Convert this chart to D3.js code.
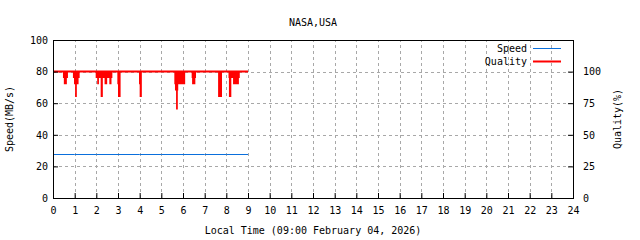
<!DOCTYPE html>
<html>
<head>
<meta charset="utf-8">
<script src="https://cdn.jsdelivr.net/npm/d3@7"></script>
<style>
  body { margin: 0; background: #fff; }
  text { font-family: "DejaVu Sans Mono", monospace; font-size: 10px; fill: #000; }
</style>
</head>
<body>
<div id="chart"></div>
<script>
// chart size and plot box
const width = 640;
const height = 240;
const margin = {left: 53, right: 67, top: 40, bottom: 42};

// axis ticks
const hourTicks = [0,1,2,3,4,5,6,7,8,9,10,11,12,13,14,15,16,17,18,19,20,21,22,23,24];
const speedTicks = [0,20,40,60,80,100];
const qualityTicks = [0,25,50,75,100];

// speed series (hours, MB/s)
const speedTime  = [0, 1, 2, 3, 4, 5, 6, 7, 8, 9];
const speedValue = [28, 28, 28, 28, 28, 28, 28, 28, 28, 28];

// quality series (hours, %) - value holds until the next time
const qualityTime  = [0, 0.46, 0.50, 0.64, 0.69, 0.92, 0.97, 1.02, 1.10, 1.18, 1.23,
                      1.97, 2.04, 2.12, 2.20, 2.30, 2.38, 2.50, 2.60, 2.70, 2.74,
                      2.97, 3.00, 3.12, 3.97, 4.00, 4.10,
                      5.60, 5.63, 5.68, 5.76, 5.78, 6.10, 6.40, 6.42, 6.57, 6.60,
                      7.62, 7.80, 8.10, 8.12, 8.23, 8.31, 8.58, 8.62, 9.00];
const qualityValue = [100, 95, 90, 95, 100, 95, 90, 80, 90, 95, 100,
                      95, 90, 95, 80, 95, 90, 95, 90, 95, 100,
                      90, 80, 100, 90, 80, 100,
                      90, 85, 70, 85, 90, 100, 95, 90, 95, 100,
                      80, 100, 95, 80, 95, 90, 95, 100, 100];

const speedColor = "#0a6fdc";
const qualityColor = "#ff0000";

const svg = d3.select("#chart")
  .append("svg")
  .attr("width", width)
  .attr("height", height);

svg.append("rect")
  .attr("width", width)
  .attr("height", height)
  .attr("fill", "#fff");

// scales
const x = d3.scaleLinear()
  .domain([0, 24])
  .range([margin.left, width - margin.right]);

const yL = d3.scaleLinear()
  .domain([0, 100])
  .range([height - margin.bottom, margin.top]);

const yR = d3.scaleLinear()
  .domain([0, 125])
  .range([height - margin.bottom, margin.top]);

// grid lines
const grid = svg.append("g")
  .attr("stroke", "#a8a8a8")
  .attr("stroke-dasharray", "3,3")
  .attr("shape-rendering", "crispEdges");

grid.selectAll(".vgrid")
  .data(hourTicks.slice(1, -1))
  .enter()
  .append("line")
    .attr("x1", d => Math.round(x(d)) + 0.5)
    .attr("x2", d => Math.round(x(d)) + 0.5)
    .attr("y1", yL(0))
    .attr("y2", yL(100));

grid.selectAll(".hgrid")
  .data(speedTicks.slice(1, -1))
  .enter()
  .append("line")
    .attr("x1", x(0))
    .attr("x2", x(24))
    .attr("y1", d => Math.round(yL(d)) + 0.5)
    .attr("y2", d => Math.round(yL(d)) + 0.5);

// quality as filled dips below the 100 line
const qualityData = qualityTime.map((t, i) => ({t: t, v: qualityValue[i]}));

svg.append("path")
  .datum(qualityData)
  .attr("fill", qualityColor)
  .attr("d", d3.area()
    .curve(d3.curveStepAfter)
    .x(d => x(d.t))
    .y0(yR(100))
    .y1(d => yR(d.v)));

const qExtent = d3.extent(qualityTime);
svg.append("line")
  .attr("x1", x(qExtent[0]))
  .attr("x2", x(qExtent[1]))
  .attr("y1", yR(100))
  .attr("y2", yR(100))
  .attr("stroke", qualityColor)
  .attr("stroke-width", 2);

// speed line
const speedData = speedTime.map((t, i) => ({t: t, v: speedValue[i]}));
svg.append("path")
  .datum(speedData)
  .attr("fill", "none")
  .attr("stroke", speedColor)
  .attr("stroke-width", 1)
  .attr("d", d3.line()
    .x(d => x(d.t))
    .y(d => Math.round(yL(d.v)) + 0.5));

// axes
svg.append("g")
  .attr("transform", `translate(${margin.left},0)`)
  .call(d3.axisLeft(yL).tickValues(speedTicks).tickSizeInner(-5).tickSizeOuter(0).tickPadding(5))
  .call(g => g.select(".domain").remove())
  .call(g => g.selectAll("text").attr("font-family", null).attr("font-size", null));

svg.append("g")
  .attr("transform", `translate(${width - margin.right},0)`)
  .call(d3.axisRight(yR).tickValues(qualityTicks).tickSizeInner(-5).tickSizeOuter(0).tickPadding(10))
  .call(g => g.select(".domain").remove())
  .call(g => g.selectAll("text").attr("font-family", null).attr("font-size", null));

svg.append("g")
  .attr("transform", `translate(0,${height - margin.bottom})`)
  .call(d3.axisBottom(x).tickValues(hourTicks).tickSizeInner(-5).tickSizeOuter(0).tickPadding(9))
  .call(g => g.select(".domain").remove())
  .call(g => g.selectAll("text").attr("font-family", null).attr("font-size", null));

// plot border
svg.append("rect")
  .attr("x", x(0) + 0.5)
  .attr("y", yL(100) + 0.5)
  .attr("width", x(24) - x(0))
  .attr("height", yL(0) - yL(100))
  .attr("fill", "none")
  .attr("stroke", "#000")
  .attr("shape-rendering", "crispEdges");

// titles
svg.append("text")
  .attr("x", (x(0) + x(24)) / 2)
  .attr("y", 26)
  .attr("text-anchor", "middle")
  .text("NASA,USA");

svg.append("text")
  .attr("x", (x(0) + x(24)) / 2)
  .attr("y", 234)
  .attr("text-anchor", "middle")
  .text("Local Time (09:00 February 04, 2026)");

svg.append("text")
  .attr("transform", `translate(13,${(yL(0) + yL(100)) / 2}) rotate(-90)`)
  .attr("text-anchor", "middle")
  .text("Speed(MB/s)");

svg.append("text")
  .attr("transform", `translate(621,${(yL(0) + yL(100)) / 2}) rotate(-90)`)
  .attr("text-anchor", "middle")
  .text("Quality(%)");

// legend
const legend = [
  {name: "Speed", color: speedColor, w: 1, y: 48},
  {name: "Quality", color: qualityColor, w: 2, y: 61}
];

const lg = svg.selectAll(".legend")
  .data(legend)
  .enter()
  .append("g")
    .attr("class", "legend");

lg.append("text")
  .attr("x", 527)
  .attr("y", d => d.y + 3.5)
  .attr("text-anchor", "end")
  .text(d => d.name);

lg.append("line")
  .attr("x1", 533)
  .attr("x2", 561)
  .attr("y1", d => d.y + 0.5)
  .attr("y2", d => d.y + 0.5)
  .attr("stroke", d => d.color)
  .attr("stroke-width", d => d.w);
</script>
</body>
</html>
